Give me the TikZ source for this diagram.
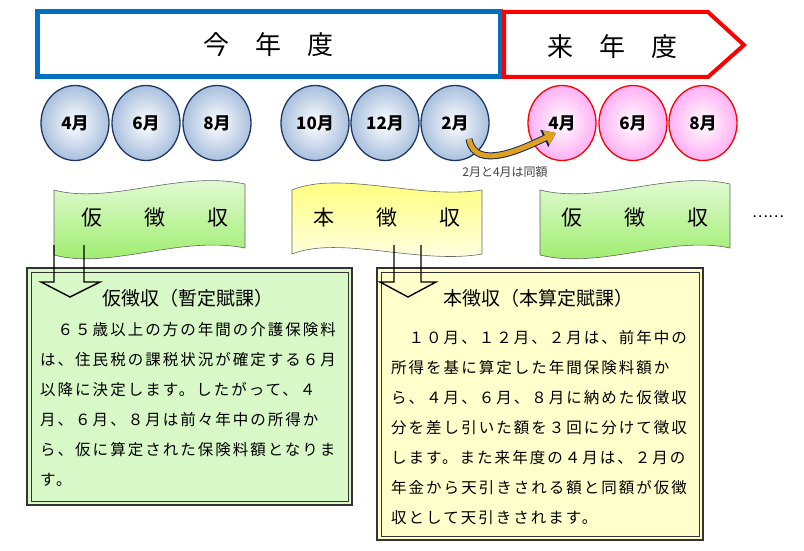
\documentclass[tikz,border=0pt]{standalone}
\usepackage{fontspec}
\usepackage{tikz}
\usetikzlibrary{arrows.meta,positioning,shapes.geometric}
\newfontfamily\jp{Noto Sans CJK JP}
\newfontfamily\jpsp[LetterSpace=13]{Noto Sans CJK JP}
\definecolor{navy}{HTML}{1F3864}
\definecolor{barblue}{HTML}{0070C0}
\definecolor{moonblue}{HTML}{A9C0DE}
\definecolor{moonpink}{HTML}{FFB0F4}
\definecolor{flaggreen}{HTML}{96EC62}
\definecolor{flagyellow}{HTML}{FFFF70}
\definecolor{boxgreen}{HTML}{D8F8C8}
\definecolor{boxyellow}{HTML}{FFFFCC}
\definecolor{gold}{HTML}{E0A020}
\tikzset{month/.style={ellipse,minimum width=68pt,minimum height=75pt,inner sep=0pt,line width=1.3pt,font=\jp\bfseries\fontsize{17}{17}\selectfont},
thisyear/.style={month,draw=navy,inner color=white,outer color=moonblue},
nextyear/.style={month,draw=red,inner color=white,outer color=moonpink},
title/.style={font=\jp\fontsize{26}{26}\selectfont},
flagtext/.style={font=\jp\fontsize{21}{21}\selectfont},
boxline/.style={anchor=west,inner sep=0pt,font=\jpsp\fontsize{15.5}{15.5}\selectfont},
boxhead/.style={inner sep=0pt,font=\jp\fontsize{19}{19}\selectfont},
downarrow/.style={draw=black,line width=1.4pt,line join=miter}}
\begin{document}
\begin{tikzpicture}[x=1pt,y=-1pt]
\useasboundingbox (0,0) rectangle (804,551);

% Year bars
\draw[barblue,line width=5pt] (37,12) rectangle (500,77);
\node[title] (this) at (268,45) {今　年　度};
\draw[red,line width=4pt,line join=miter] (504,12) -- (708,12) -- (744,45) -- (708,77) -- (504,77) -- cycle;
\node[title] (next) at (612,47) {来　年　度};

% Months
\node[thisyear] (a4) at (75,123) {4月};
\node[thisyear] (a6) at (146,123) {6月};
\node[thisyear] (a8) at (217,123) {8月};
\node[thisyear] (b10) at (315,123) {10月};
\node[thisyear] (b12) at (385,123) {12月};
\node[thisyear] (b2) at (455,123) {2月};
\node[nextyear] (c4) at (562,123) {4月};
\node[nextyear] (c6) at (633,123) {6月};
\node[nextyear] (c8) at (703,123) {8月};

% Same amount arrow
\coordinate (from) at ([xshift=14pt,yshift=-16pt]b2.center);
\coordinate (to) at ([xshift=-6pt,yshift=-10pt]c4.center);
\draw[line width=7pt,navy!70!black,-{Triangle[length=13pt,width=18pt]}] (from) to[out=-80,in=-155] (to);
\draw[line width=5pt,gold,-{Triangle[length=11pt,width=15pt]}] (from) to[out=-80,in=-155] (to);
\node[font=\jp\fontsize{12}{12}\selectfont,text=black!75] (same) at (505,172) {2月と4月は同額};

% Flags
\shade[top color=flaggreen!20,bottom color=flaggreen,draw=black!60,line width=.6pt]
 (54,190) .. controls (110,205) and (180,170) .. (245,184) -- (245,248) .. controls (180,235) and (110,270) .. (54,255) -- cycle;
\node[flagtext] (flag1) at (155,218) {仮　　徴　　収};
\shade[top color=flagyellow,bottom color=flagyellow!15,draw=black!60,line width=.6pt]
 (292,190) .. controls (340,170) and (420,200) .. (482,190) -- (482,254) .. controls (420,265) and (340,235) .. (292,254) -- cycle;
\node[flagtext] (flag2) at (387,218) {本　　徴　　収};
\shade[top color=flaggreen!20,bottom color=flaggreen,draw=black!60,line width=.6pt]
 (540,190) .. controls (600,205) and (670,170) .. (730,184) -- (730,248) .. controls (670,235) and (600,270) .. (540,255) -- cycle;
\node[flagtext] (flag3) at (635,218) {仮　　徴　　収};
\node[font=\jp\fontsize{15}{15}\selectfont] (dots) at (768,217) {……};

% Boxes
\fill[boxgreen] (27,268) rectangle (352,505);
\draw[line width=1.6pt,black!80] (27,268) rectangle (352,505);
\draw[line width=.7pt,black!80] (31,272) rectangle (348,501);
\fill[boxyellow] (377,268) rectangle (703,540);
\draw[line width=1.6pt,black!80] (377,268) rectangle (703,540);
\draw[line width=.7pt,black!80] (381,272) rectangle (699,536);

% Down arrows
\draw[downarrow] (54,245) -- (54,282) -- (41,282) -- (70,297) -- (100,282) -- (84,282) -- (84,245);
\draw[downarrow] (394,245) -- (394,282) -- (380,282) -- (408,297) -- (436,282) -- (421,282) -- (421,245);

% Box texts
\node[boxhead] (head1) at (188,298) {仮徴収（暫定賦課）};
\foreach \t [count=\i] in {　６５歳以上の方の年間の介護保険料,は、住民税の課税状況が確定する６月,以降に決定します。したがって、４,月、６月、８月は前々年中の所得か,ら、仮に算定された保険料額となりま,す。}
  \node[boxline] (left\i) at (40,300+30*\i) {\t};
\node[boxhead] (head2) at (538,298) {本徴収（本算定賦課）};
\foreach \t [count=\i] in {　１０月、１２月、２月は、前年中の,所得を基に算定した年間保険料額か,ら、４月、６月、８月に納めた仮徴収,分を差し引いた額を３回に分けて徴収,します。また来年度の４月は、２月の,年金から天引きされる額と同額が仮徴,収として天引きされます。}
  \node[boxline] (right\i) at (391,308+30*\i) {\t};
\end{tikzpicture}
\end{document}
